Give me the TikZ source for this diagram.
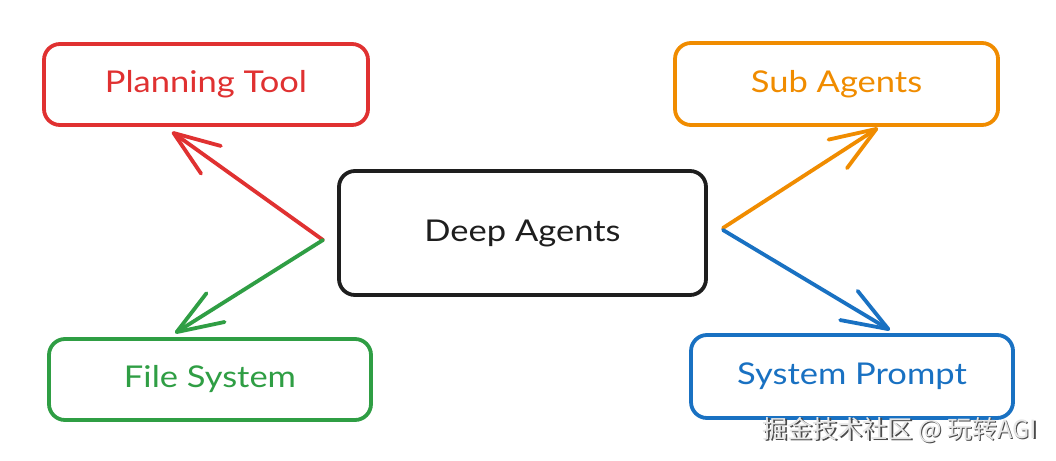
\documentclass[tikz,border=0pt]{standalone}
\usepackage{fontspec}
\setmainfont[FakeStretch=1.15]{Lato}
\newfontfamily\cjk{Noto Sans CJK SC}
\usetikzlibrary{arrows.meta}
\definecolor{exred}{HTML}{E03131}
\definecolor{exorange}{HTML}{F08C00}
\definecolor{exgreen}{HTML}{2F9E44}
\definecolor{exblue}{HTML}{1971C2}
\definecolor{exblack}{HTML}{1E1E1E}
\definecolor{wmlight}{HTML}{E6E6E6}
\definecolor{wmdark}{HTML}{4A4A4A}
\begin{document}
\begin{tikzpicture}[x=1pt,y=-1pt,
  box/.style={draw, line width=3.8pt, rounded corners=16pt, inner sep=0pt,
    font=\fontsize{30}{36}\selectfont},
  arr/.style={line width=3.8pt, line cap=round, line join=round,
    -{Straight Barb[length=46pt,width=34pt,round]}},
  wm/.style={font=\cjk\fontsize{25}{25}\selectfont, inner sep=0pt}]
\useasboundingbox (0,0) rectangle (1056,460);
\fill[white] (0,0) rectangle (1056,460);
% boxes
\node[box, exred, minimum width=324pt, minimum height=81pt] (plan) at (206,84.5) {Planning Tool};
\node[box, exorange, minimum width=323pt, minimum height=82pt] (sub) at (836.5,84) {Sub Agents};
\node[box, exgreen, minimum width=322pt, minimum height=81pt] (file) at (210,379.5) {File System};
\node[box, exblue, minimum width=322pt, minimum height=83pt] (sys) at (852,376.5) {System Prompt};
\node[box, exblack, minimum width=367pt, minimum height=124pt] (deep) at (522.5,233) {Deep Agents};
% connector origins
\coordinate (ls) at (323,240);
\coordinate (rs) at (723,228);
\coordinate (rs2) at (723,230);
% connectors
\draw[arr, exred] (ls) -- ([xshift=-34pt,yshift=-5pt]plan.south);
\draw[arr, exgreen] (ls) -- ([xshift=-35pt,yshift=4pt]file.north);
\draw[arr, exorange] (rs) -- ([xshift=41.5pt,yshift=-1pt]sub.south);
\draw[arr, exblue] (rs2) -- ([xshift=38pt,yshift=3pt]sys.north);
% watermark
\node[wm, text=wmdark] (wmshadow) at (901.2,431.2) {掘金技术社区 @ 玩转AGI};
\node[wm, text=wmlight] (wmtext) at (900,430) {掘金技术社区 @ 玩转AGI};
\end{tikzpicture}
\end{document}
